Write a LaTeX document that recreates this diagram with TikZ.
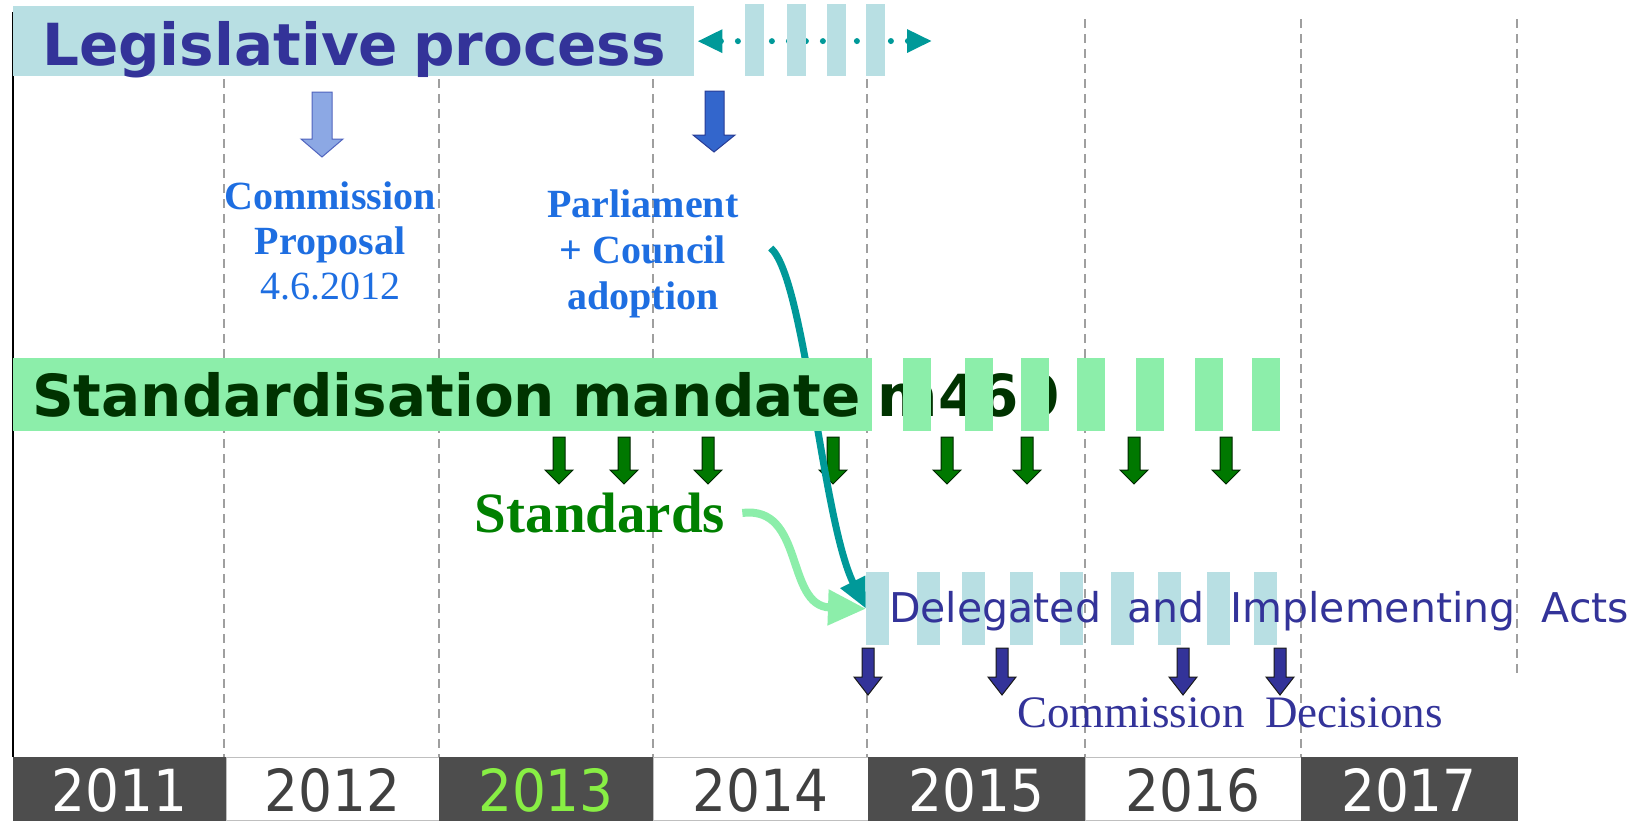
\documentclass[tikz,border=0pt]{standalone}
\usepackage{fontspec}
\usepackage{xcolor}
\usepackage{tikz}
\usetikzlibrary{arrows.meta, positioning}
\setmainfont{Liberation Serif}
\newfontfamily\verdana{DejaVu Sans}
\newfontfamily\actsfont[WordSpace=2]{DejaVu Sans}
\newfontfamily\yearfont[FakeStretch=0.92]{DejaVu Sans}
\newfontfamily\decfont[WordSpace=1.8]{Liberation Serif}

\definecolor{legfill}{RGB}{184,223,227}
\definecolor{legtext}{RGB}{51,51,153}
\definecolor{stdfill}{RGB}{140,238,170}
\definecolor{stdtext}{RGB}{0,51,0}
\definecolor{stdgreen}{RGB}{0,128,0}
\definecolor{stdarrowfill}{RGB}{0,120,0}
\definecolor{noteblue}{RGB}{30,110,225}
\definecolor{tealc}{RGB}{0,153,153}
\definecolor{navy}{RGB}{51,51,153}
\definecolor{yeardark}{RGB}{77,77,77}
\definecolor{yeargreen}{RGB}{136,238,68}

\begin{document}
\begin{tikzpicture}[
    x=1pt, y=-1pt,
    every node/.style={inner sep=0pt},
    gridline/.style={gray!75, line width=1.6pt, dash pattern=on 9pt off 6pt},
    legstripe/.style={fill=legfill, anchor=north west, minimum width=19pt, minimum height=72pt},
    stdstripe/.style={fill=stdfill, anchor=north west, minimum width=28pt, minimum height=73pt},
    actstripe/.style={fill=legfill, anchor=north west, minimum width=23pt, minimum height=73pt},
    yearcell/.style={minimum height=63pt, line width=1pt, text height=45pt, text depth=0pt,
                     font=\yearfont\fontsize{58}{60}\selectfont},
    bigtitle/.style={anchor=base west, font=\verdana\bfseries\fontsize{58}{60}\selectfont},
    bluenote/.style={align=center, text=noteblue, font=\fontsize{40}{45}\selectfont},
    stdarrow/.style={fill=stdarrowfill, draw=black!85!green, line width=1pt},
    decarrow/.style={fill=navy, draw=black!90, line width=1pt},
    proparrow/.style={fill={rgb,255:red,140;green,168;blue,228}, draw={rgb,255:red,80;green,100;blue,190}, line width=1pt},
    adoptarrow/.style={fill={rgb,255:red,51;green,102;blue,204}, draw={rgb,255:red,40;green,60;blue,150}, line width=1pt},
    legarrow/.style={tealc, line width=6pt, line cap=round, dash pattern=on 0pt off 17pt,
                     {Triangle[length=25pt,width=22pt]}-{Triangle[length=25pt,width=22pt]}},
    curved/.style={line width=7pt, -{Triangle[length=30pt,width=26pt]}},
]
    \useasboundingbox (0,0) rectangle (1652,820);

    \foreach \x in {224,439,653,867,1085,1301}
        \draw[gridline] (\x,19) -- (\x,757);
    \draw[gridline] (1517,19) -- (1517,675);
    \draw[line width=2pt] (13,12) -- (13,757);

    \foreach \yr/\xa/\xb/\bg/\fg/\bd in {2011/13/226/yeardark/white/yeardark,
            2012/226/439/white/black!75/gray!50, 2013/439/653/yeardark/yeargreen/yeardark,
            2014/653/868/white/black!75/gray!50, 2015/868/1085/yeardark/white/yeardark,
            2016/1085/1301/white/black!75/gray!50, 2017/1301/1517/yeardark/white/yeardark}
        \node[yearcell, fill=\bg, draw=\bd, text=\fg, minimum width=\xb-\xa] (y\yr) at ({(\xa+\xb)/2},788.5) {\yr};

    \node[fill=legfill, anchor=north west, minimum width=681pt, minimum height=70pt] (legbar) at (13,6) {};
    \coordinate (legend) at (932,41);
    \draw[legarrow] ([xshift=3pt]legbar.east) -- (legend);
    \foreach \x in {745,787,827,866}
        \node[legstripe] at (\x,4) {};
    \node[bigtitle, text=legtext] (legtext) at (42,65) {Legislative\hspace{15pt}process};

    \draw[proparrow] (312,92) -- (332,92) -- (332,139) -- (343,139) -- (322,157) -- (301,139) -- (312,139) -- cycle;
    \draw[adoptarrow] (705,91) -- (724,91) -- (724,135) -- (735,135) -- (714,152) -- (693,135) -- (705,135) -- cycle;
    \node[bluenote] (commprop) at (330,241) {\textbf{Commission}\\\textbf{Proposal}\\4.6.2012};
    \node[bluenote, font=\bfseries\fontsize{40}{46}\selectfont] (parl) at (643,254) {Parliament\\+ Council\\adoption};

    \foreach \x [count=\i] in {866,917,962,1010,1060,1111,1158,1207,1254}
        \node[actstripe] (ds\i) at (\x,572) {};
    \node[anchor=base west, text=navy, font=\actsfont\fontsize{41}{44}\selectfont] (acts) at (889,622) {Delegated and Implementing Acts};
    \foreach \x in {868,1002,1183,1280}
        \draw[decarrow] (\x-6,648) -- (\x+6,648) -- (\x+6,677) -- (\x+14,677) -- (\x,695) -- (\x-14,677) -- (\x-6,677) -- cycle;
    \node[anchor=base west, text=navy, font=\decfont\fontsize{45}{48}\selectfont] (decisions) at (1017,727) {Commission Decisions};

    \node[text=stdgreen, font=\bfseries\fontsize{57}{60}\selectfont] (std) at (600,513) {Standards};
    \foreach \x in {559,624,708,833,947,1027,1134,1226}
        \draw[stdarrow] (\x-6,437) -- (\x+6,437) -- (\x+6,470) -- (\x+14,470) -- (\x,484) -- (\x-14,470) -- (\x-6,470) -- cycle;

    \draw[curved, stdfill, line width=8pt, -{Triangle[length=38pt,width=34pt]}] ([xshift=17pt]std.east) .. controls (805,505) and (785,606) .. (ds1.west);
    \draw[curved, tealc] ([xshift=32pt,yshift=6pt]parl.east) .. controls (805,278) and (822,520) .. (ds1.west);

    \node[fill=stdfill, anchor=north west, minimum width=859pt, minimum height=73pt] (stdbar) at (13,358) {};
    \node[bigtitle, text=stdtext] (stdtext) at (32,416) {Standardisation\hspace{17pt}mandate\hspace{17pt}m460};
    \foreach \x in {903,965,1021,1077,1136,1195,1252}
        \node[stdstripe] at (\x,358) {};
\end{tikzpicture}
\end{document}
